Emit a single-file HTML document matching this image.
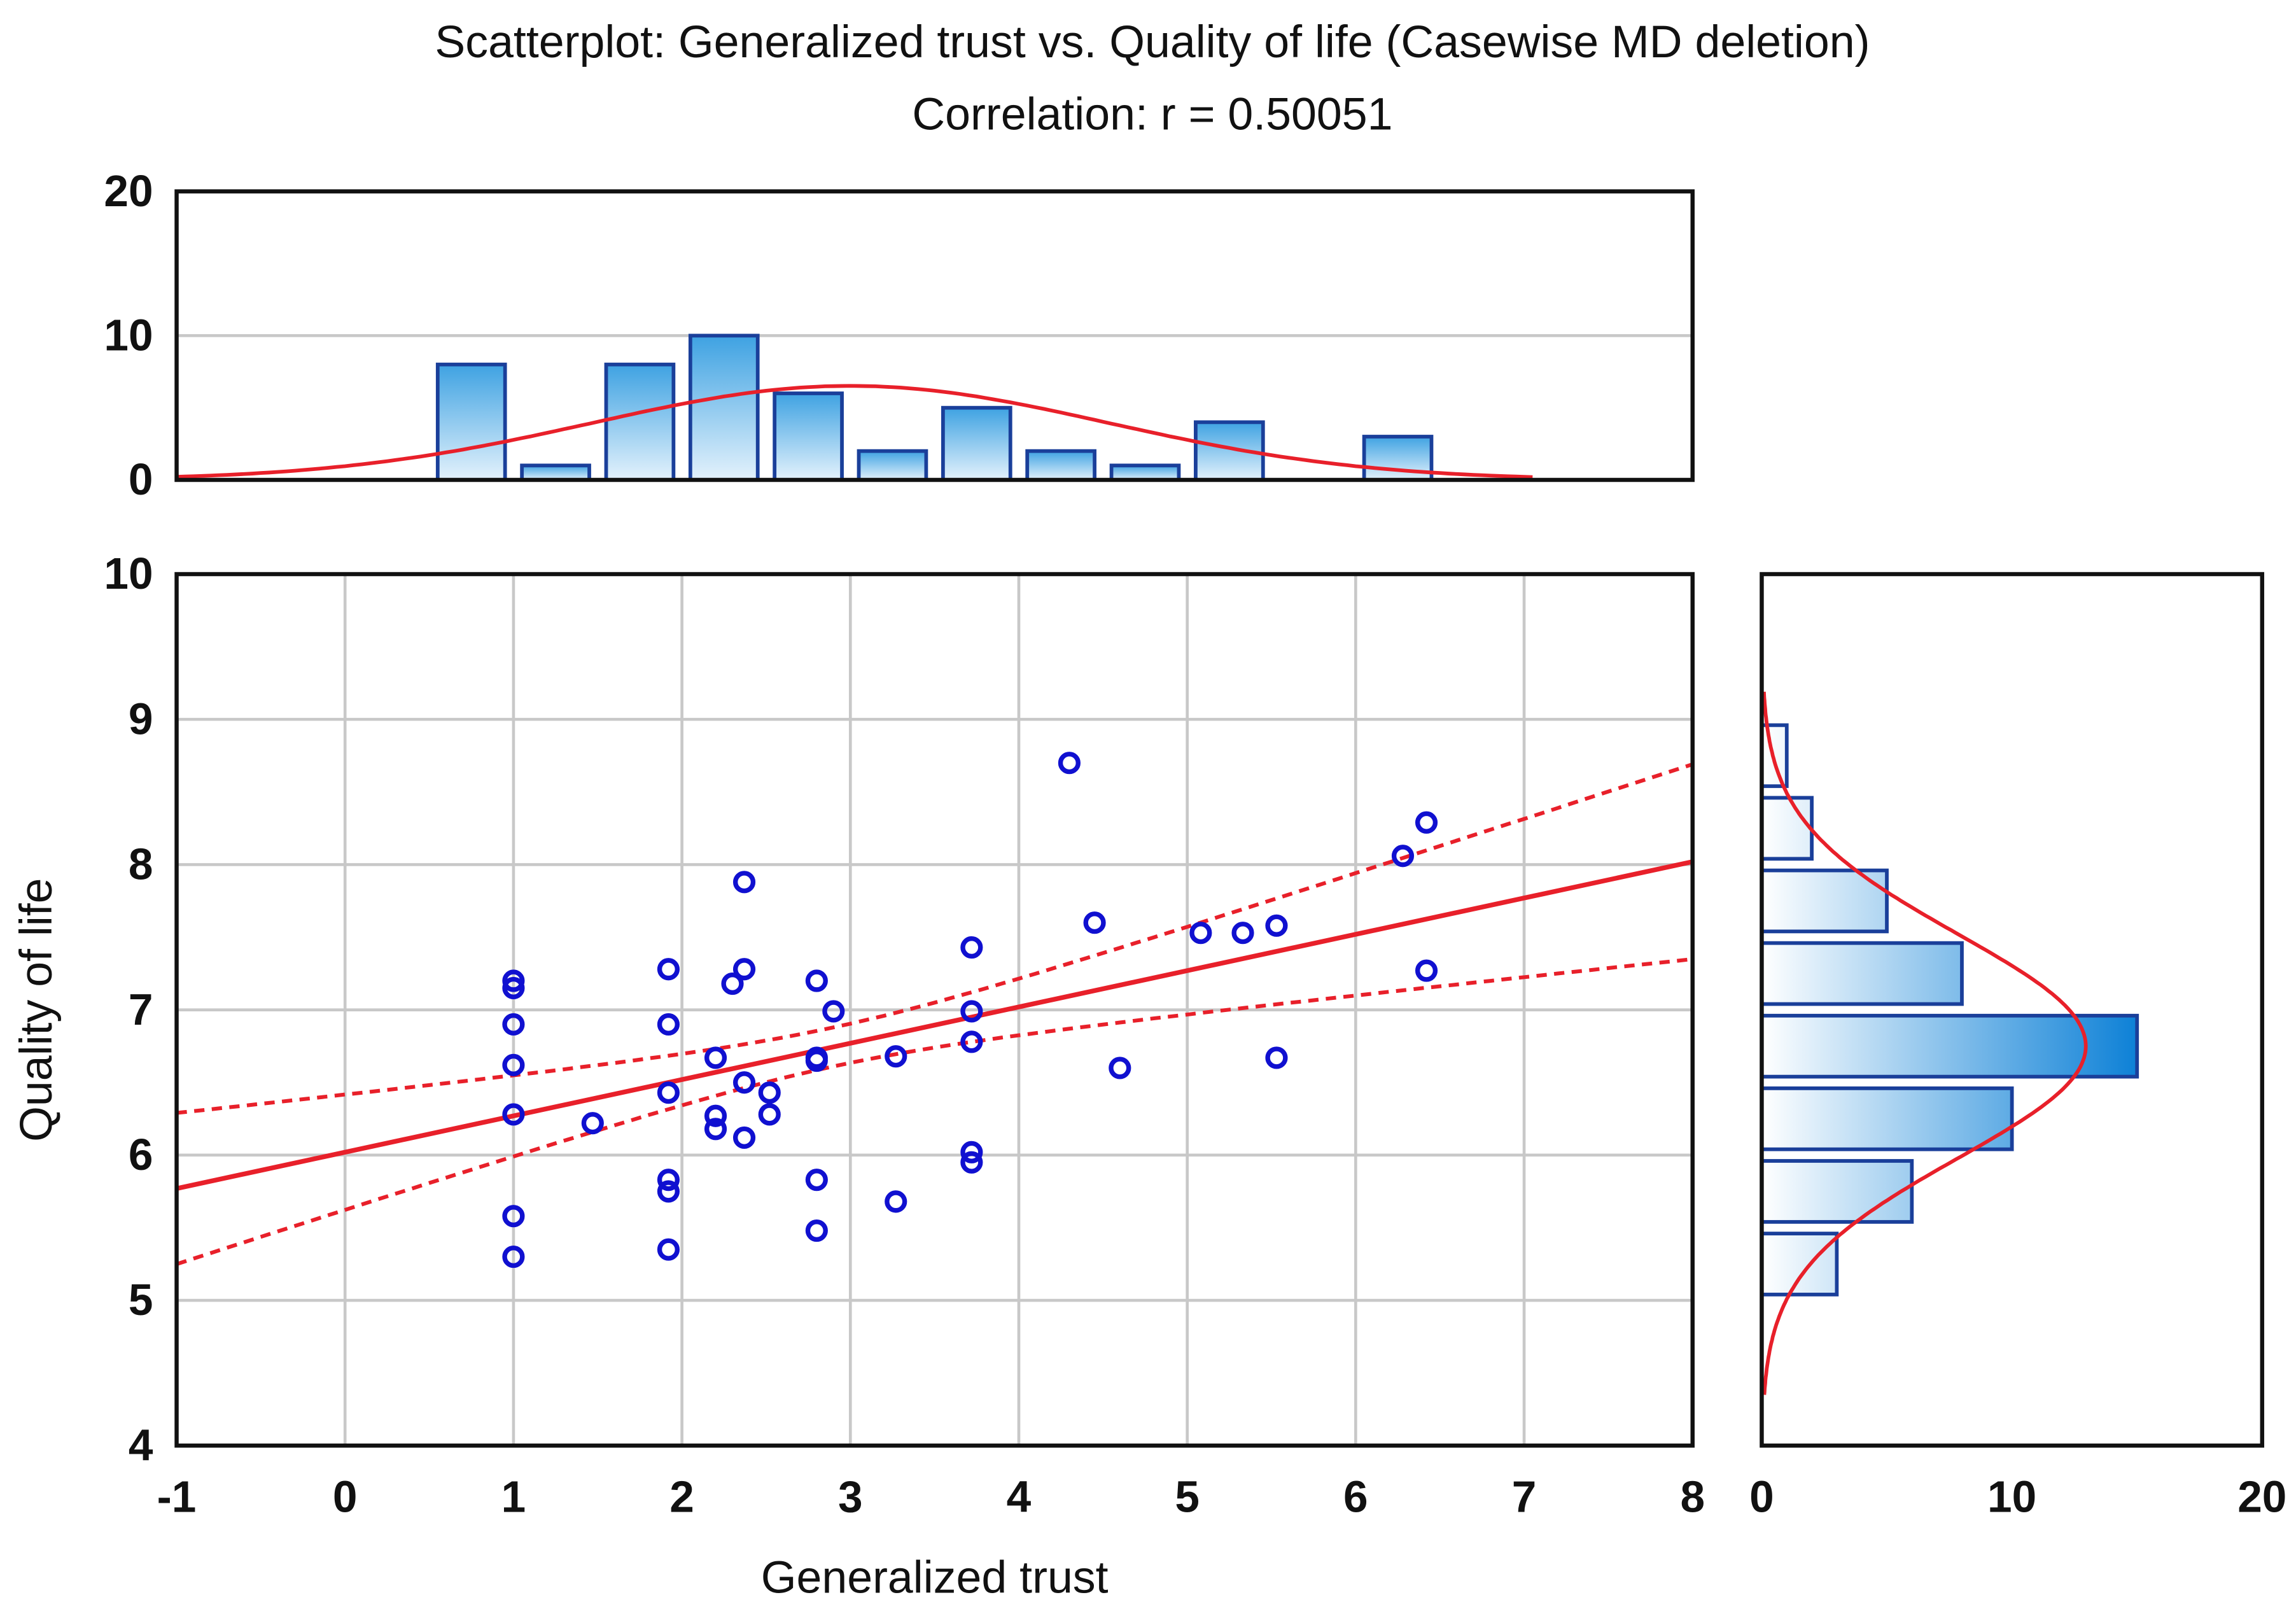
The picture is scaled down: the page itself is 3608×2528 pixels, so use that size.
<!DOCTYPE html>
<html><head><meta charset="utf-8"><style>
html,body{margin:0;padding:0;background:#fff;}
svg{display:block;}
text{font-family:"Liberation Sans",sans-serif;fill:#111;}
</style></head><body>
<svg id="chart" width="3608" height="2528" viewBox="0 0 1560 1093" preserveAspectRatio="none" xmlns="http://www.w3.org/2000/svg">
<defs>
<linearGradient id="gTop" x1="0" y1="1" x2="0" y2="0">
<stop offset="0" stop-color="#e4f2fc"/><stop offset="1" stop-color="#3ea2e2"/></linearGradient>
<linearGradient id="gRight" gradientUnits="userSpaceOnUse" x1="1197" y1="0" x2="1455" y2="0">
<stop offset="0" stop-color="#ffffff"/><stop offset="1" stop-color="#0a7fd6"/></linearGradient>
</defs>
<text x="783" y="39" font-size="31" text-anchor="middle">Scatterplot: Generalized trust vs. Quality of life (Casewise MD deletion)</text>
<text x="783" y="88" font-size="31" text-anchor="middle">Correlation: r = 0.50051</text>
<text x="635" y="1082" font-size="31" text-anchor="middle">Generalized trust</text>
<text x="0" y="0" font-size="31" text-anchor="middle" transform="translate(35,686) rotate(-90)">Quality of life</text>
<g id="grid"></g><g id="marks"></g><g id="frames"></g>
</svg>
<script>
const xTicks=[-1,0,1,2,3,4,5,6,7,8];
const yTicks=[4,5,6,7,8,9,10];
const topHistTicks=[0,10,20];
const rightHistTicks=[0,10,20];
const trustX=[1,1,1,1,1,1,1,1.47,1.92,1.92,1.92,1.92,1.92,1.92,2.2,2.2,2.2,2.3,2.37,2.37,2.37,2.37,2.52,2.52,2.8,2.8,2.8,2.8,2.8,2.9,3.27,3.27,3.72,3.72,3.72,3.72,3.72,4.3,4.45,4.6,5.08,5.33,5.53,5.53,6.28,6.42,6.42];
const qolY=[7.2,7.15,6.9,6.62,6.28,5.58,5.3,6.22,7.28,6.9,6.43,5.83,5.75,5.35,6.67,6.27,6.18,7.18,7.88,7.28,6.5,6.12,6.43,6.28,7.2,6.67,6.65,5.83,5.48,6.99,6.68,5.68,7.43,6.99,6.78,6.02,5.95,8.7,7.6,6.6,7.53,7.53,7.58,6.67,8.06,8.29,7.27];
const topBinCenters=[0.75,1.25,1.75,2.25,2.75,3.25,3.75,4.25,4.75,5.25,5.75,6.25];
const topBinCounts=[8,1,8,10,6,2,5,2,1,4,0,3];
const rightBinCenters=[8.75,8.25,7.75,7.25,6.75,6.25,5.75,5.25];
const rightBinCounts=[1,2,5,8,15,10,6,3];
const regIntercept=6.02, regSlope=0.25;
const bandMeanX=2.9, bandC0=0.018, bandC1=0.0166;
const topMean=3.0, topSd=1.53, rightMean=6.75, rightSd=0.77, nObs=50, binW=0.5;

const NS="http://www.w3.org/2000/svg";
const X=v=>120+(v+1)*(1030/9);
const Y=v=>982-(v-4)*(592/6);
const TY=v=>326-v*(196/20);
const RX=v=>1197+v*(340/20);
function mk(tag,attrs,parent){const e=document.createElementNS(NS,tag);for(const k in attrs)e.setAttribute(k,attrs[k]);parent.appendChild(e);return e;}
const grid=document.getElementById('grid'),marks=document.getElementById('marks'),frames=document.getElementById('frames');

xTicks.forEach(t=>{
  const l=mk('line',{x1:X(t),x2:X(t),y1:390,y2:982,stroke:'#c8c8c8','stroke-width':2},grid);
  
  
  const tx=mk('text',{x:X(t),y:1027,'font-size':30,'font-weight':'bold','text-anchor':'middle'},grid);tx.textContent=t;
  
  
});
yTicks.forEach(t=>{
  const l=mk('line',{x1:120,x2:1150,y1:Y(t),y2:Y(t),stroke:'#c8c8c8','stroke-width':2},grid);
  
  
  const tx=mk('text',{x:104,y:Y(t)+10,'font-size':30,'font-weight':'bold','text-anchor':'end'},grid);tx.textContent=t;
  
  
});
topHistTicks.forEach(t=>{
  if(t===10){const l=mk('line',{x1:120,x2:1150,y1:TY(t),y2:TY(t),stroke:'#c8c8c8','stroke-width':2},grid);
  
  }
  const tx=mk('text',{x:104,y:TY(t)+10,'font-size':30,'font-weight':'bold','text-anchor':'end'},grid);tx.textContent=t;
  
  
});
rightHistTicks.forEach(t=>{
  const tx=mk('text',{x:RX(t),y:1027,'font-size':30,'font-weight':'bold','text-anchor':'middle'},grid);tx.textContent=t;
  
  
});

topBinCenters.forEach((c,i)=>{
  if(!topBinCounts[i])return;
  const x0=X(c-0.2),x1=X(c+0.2);
  const r=mk('rect',{x:x0,y:TY(topBinCounts[i]),width:x1-x0,height:TY(0)-TY(topBinCounts[i]),fill:'url(#gTop)',stroke:'#1a3f9a','stroke-width':2.5},marks);
  
  
});
rightBinCenters.forEach((c,i)=>{
  const y0=Y(c+0.21),y1=Y(c-0.21);
  const r=mk('rect',{x:RX(0),y:y0,width:RX(rightBinCounts[i])-RX(0),height:y1-y0,fill:'url(#gRight)',stroke:'#1a3f9a','stroke-width':2.5},marks);
  
  
});
const pdf=(v,m,s)=>nObs*binW*Math.exp(-0.5*((v-m)/s)**2)/(s*Math.sqrt(2*Math.PI));
let p='';for(let v=-1;v<=7.05;v+=0.05){p+=(p?'L':'M')+X(v).toFixed(1)+','+TY(pdf(v,topMean,topSd)).toFixed(1);}
let c1=mk('path',{d:p,fill:'none',stroke:'#e8202a','stroke-width':2.5},marks);


p='';for(let v=4.35;v<=9.2;v+=0.02){p+=(p?'L':'M')+RX(pdf(v,rightMean,rightSd)).toFixed(1)+','+Y(v).toFixed(1);}
let c2=mk('path',{d:p,fill:'none',stroke:'#e8202a','stroke-width':2.5},marks);


const fit=v=>regIntercept+regSlope*v, hw=v=>Math.sqrt(bandC0+bandC1*(v-bandMeanX)**2);
let rl=mk('line',{x1:X(-1),y1:Y(fit(-1)),x2:X(8),y2:Y(fit(8)),stroke:'#e8202a','stroke-width':3.2},marks);


[1,-1].forEach(sg=>{
  let d='';for(let v=-1;v<=8.001;v+=0.1){d+=(d?'L':'M')+X(v).toFixed(1)+','+Y(fit(v)+sg*hw(v)).toFixed(1);}
  const b=mk('path',{d:d,fill:'none',stroke:'#e8202a','stroke-width':2.6,'stroke-dasharray':'7,5'},marks);
  
  
});
trustX.forEach((xv,i)=>{
  const c=mk('circle',{cx:X(xv),cy:Y(qolY[i]),r:6,fill:'none',stroke:'#1010d0','stroke-width':3.2},marks);
  
  
});
[[120,130,1030,196,'top-hist-frame'],[120,390,1030,592,'scatter-frame'],[1197,390,340,592,'right-hist-frame']].forEach(f=>{
  const r=mk('rect',{x:f[0],y:f[1],width:f[2],height:f[3],fill:'none',stroke:'#111','stroke-width':2.8},frames);
  
  
});
</script>
</body></html>
